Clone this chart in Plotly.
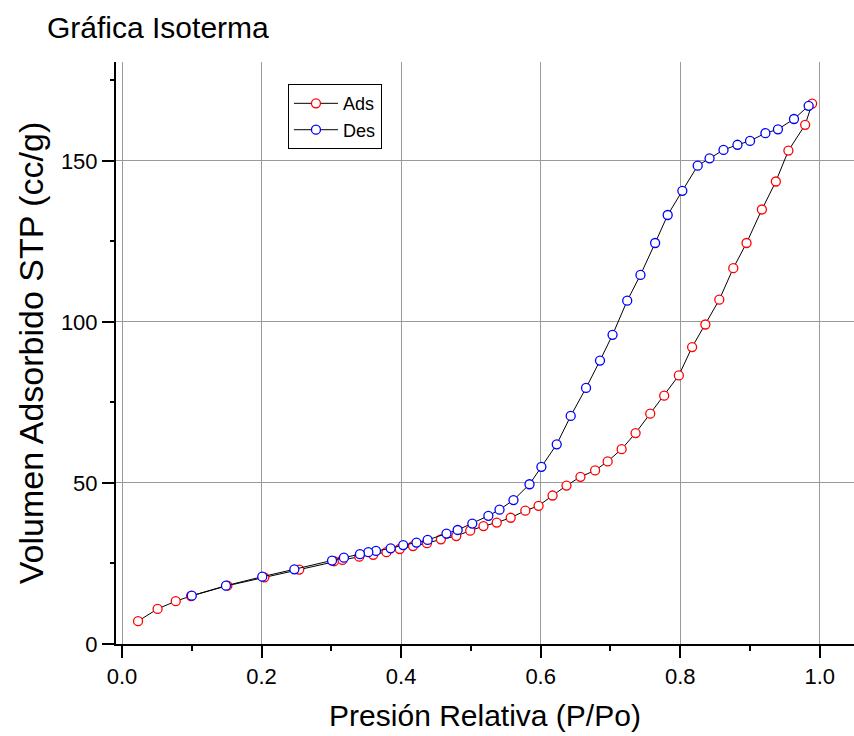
import plotly.graph_objects as go

# Adsorption branch
ads_p = [0.023, 0.051, 0.077, 0.099, 0.151, 0.204, 0.254, 0.304, 0.316, 0.340,
         0.360, 0.379, 0.398, 0.417, 0.437, 0.457, 0.479, 0.499, 0.518, 0.537,
         0.557, 0.578, 0.597, 0.617, 0.637, 0.657, 0.678, 0.696, 0.716, 0.736,
         0.757, 0.777, 0.798, 0.817, 0.836, 0.856, 0.876, 0.895, 0.917, 0.937,
         0.955, 0.979, 0.989]
ads_v = [7.1, 10.9, 13.3, 14.9, 18.1, 20.7, 23.1, 25.7, 26.1, 27.1,
         27.7, 28.5, 29.5, 30.4, 31.3, 32.5, 33.5, 35.2, 36.6, 37.7,
         39.2, 41.4, 42.9, 46.1, 49.2, 51.9, 53.9, 56.7, 60.5, 65.5,
         71.5, 77.1, 83.4, 92.2, 99.2, 106.9, 116.7, 124.5, 134.9, 143.6,
         153.2, 161.2, 167.8]

# Desorption branch
des_p = [0.984, 0.963, 0.940, 0.922, 0.900, 0.882, 0.862, 0.842, 0.825, 0.803,
         0.782, 0.764, 0.743, 0.724, 0.703, 0.685, 0.665, 0.643, 0.623, 0.601,
         0.584, 0.561, 0.541, 0.525, 0.502, 0.481, 0.465, 0.438, 0.422, 0.403,
         0.385, 0.364, 0.353, 0.341, 0.318, 0.301, 0.247, 0.201, 0.149, 0.100]
des_v = [167.1, 163.0, 159.8, 158.6, 156.2, 155.0, 153.4, 150.8, 148.5, 140.7,
         133.2, 124.5, 114.6, 106.6, 96.0, 88.0, 79.5, 70.8, 62.0, 55.0,
         49.6, 44.7, 41.7, 39.8, 37.4, 35.4, 34.3, 32.3, 31.5, 30.7,
         29.7, 28.9, 28.5, 27.9, 26.8, 25.9, 23.2, 20.9, 18.1, 15.0]

x_ticks = [0.0, 0.2, 0.4, 0.6, 0.8, 1.0]
x_ticklabels = ["0.0", "0.2", "0.4", "0.6", "0.8", "1.0"]
y_ticks = [0, 50, 100, 150]

FONT = "Liberation Sans, Arial, sans-serif"

fig = go.Figure()
fig.add_trace(go.Scatter(
    x=ads_p, y=ads_v, name="Ads", mode="lines+markers",
    line=dict(color="black", width=1),
    marker=dict(symbol="circle", size=9, color="white", line=dict(width=1.3, color="#FF0000")),
))
fig.add_trace(go.Scatter(
    x=des_p, y=des_v, name="Des", mode="lines+markers",
    line=dict(color="black", width=1),
    marker=dict(symbol="circle", size=9, color="white", line=dict(width=1.3, color="#0000FF")),
))

fig.update_layout(
    width=854, height=736,
    margin=dict(l=116, r=0, t=62, b=92),
    paper_bgcolor="white", plot_bgcolor="white",
    font=dict(family=FONT, color="black"),
    title=dict(text="Gráfica Isoterma", x=47/854, xanchor="left", xref="container",
               y=1-27/736, yanchor="middle", yref="container",
               font=dict(size=30, family=FONT, color="black")),
    showlegend=True,
    legend=dict(x=0.233, y=0.962, xanchor="left", yanchor="top",
                bordercolor="black", borderwidth=1, bgcolor="white",
                font=dict(size=18, family=FONT), tracegroupgap=0,
                itemwidth=44),
)

fig.update_xaxes(
    range=[-0.0086, 1.049], tickvals=x_ticks, ticktext=x_ticklabels,
    showgrid=True, gridcolor="#9a9a9a", gridwidth=1, zeroline=False,
    showline=True, linecolor="black", linewidth=2,
    ticks="outside", ticklen=12, tickwidth=2, tickcolor="black",
    minor=dict(ticks="outside", ticklen=5, tickwidth=2, tickcolor="black", dtick=0.1, tick0=0, showgrid=False),
    tickfont=dict(size=22, family=FONT),
    title=dict(text="Presión Relativa (P/Po)", font=dict(size=30, family=FONT), standoff=17),
)
fig.update_yaxes(
    range=[0, 180.7], tickvals=y_ticks,
    showgrid=True, gridcolor="#9a9a9a", gridwidth=1, zeroline=False,
    showline=True, linecolor="black", linewidth=2,
    ticks="outside", ticklen=12, tickwidth=2, tickcolor="black",
    minor=dict(ticks="outside", ticklen=4, tickwidth=2, tickcolor="black", dtick=25, tick0=0, showgrid=False),
    tickfont=dict(size=22, family=FONT),
    title=dict(text="Volumen Adsorbido STP (cc/g)", font=dict(size=34, family=FONT), standoff=7),
)

# Origin-style axis crossing: x axis line extends a bit left of the y axis
fig.add_shape(type="line", xref="paper", yref="paper", x0=-0.018, x1=0, y0=0, y1=0,
              line=dict(color="black", width=2))

fig.write_html("out.html")
